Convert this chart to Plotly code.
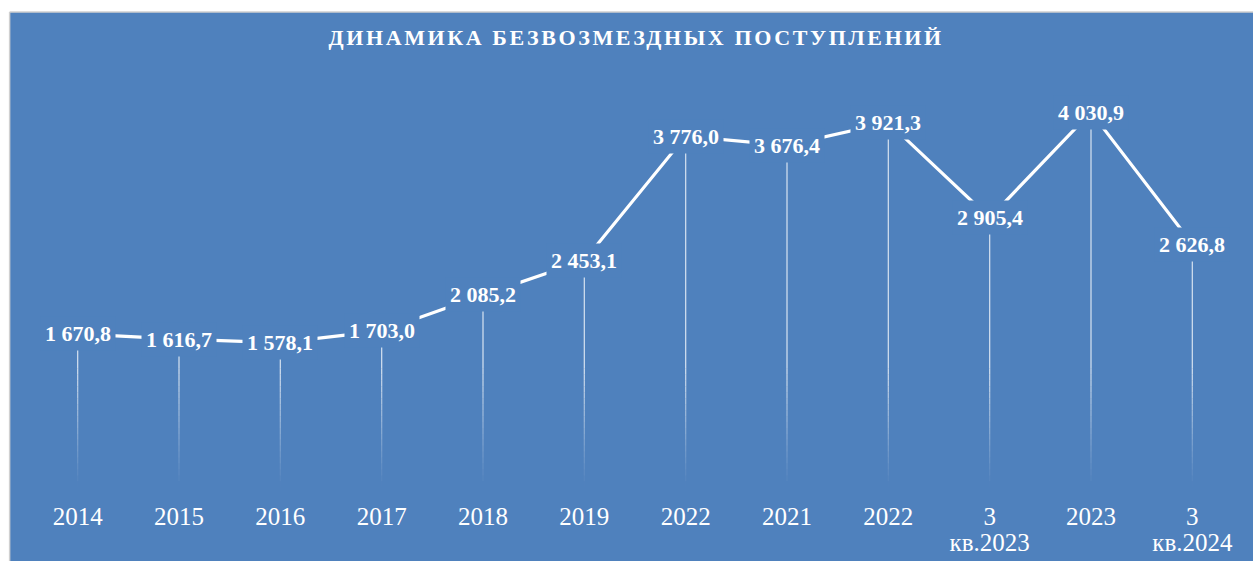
import plotly.graph_objects as go

# ---- data ----
categories = ["2014", "2015", "2016", "2017", "2018", "2019", "2022", "2021",
              "2022", "3<br>кв.2023", "2023", "3<br>кв.2024"]
values = [1670.8, 1616.7, 1578.1, 1703.0, 2085.2, 2453.1, 3776.0, 3676.4,
          3921.3, 2905.4, 4030.9, 2626.8]
title_text = "ДИНАМИКА БЕЗВОЗМЕЗДНЫХ ПОСТУПЛЕНИЙ"

BLUE = "#4F81BD"
FONT = "Liberation Serif, Times New Roman, serif"
xs = list(range(len(values)))

W, H = 1253, 561


def fmt(v):
    s = f"{v:,.1f}"
    return s.replace(",", " ").replace(".", ",")


fig = go.Figure()

# drop lines: solid upper part + gradually fading lower part
fade_top = 1300
steps = 20
base_alpha = 0.72
dx, dy = [], []
for xi, v in zip(xs, values):
    dx += [xi, xi, None]
    dy += [fade_top, v, None]
fig.add_trace(go.Scatter(x=dx, y=dy, mode="lines",
                         line=dict(color=f"rgba(255,255,255,{base_alpha})", width=1.3),
                         hoverinfo="skip", showlegend=False))
for k in range(steps):
    y0 = 40 + (fade_top - 40) * k / steps
    y1 = 40 + (fade_top - 40) * (k + 1) / steps
    a = base_alpha * ((k + 0.5) / steps) ** 1.1
    fx, fy = [], []
    for xi in xs:
        fx += [xi, xi, None]
        fy += [y0, y1, None]
    fig.add_trace(go.Scatter(x=fx, y=fy, mode="lines",
                             line=dict(color=f"rgba(255,255,255,{a:.3f})", width=1.3),
                             hoverinfo="skip", showlegend=False))

# main line
fig.add_trace(go.Scatter(x=xs, y=values, mode="lines",
                         line=dict(color="white", width=3.2),
                         hoverinfo="skip", showlegend=False))

# data labels
for xi, v in zip(xs, values):
    fig.add_annotation(x=xi, y=v, xref="x", yref="y", text=f"<b>{fmt(v)}</b>",
                       showarrow=False, bgcolor=BLUE, borderpad=4,
                       font=dict(family=FONT, size=22, color="white"))

# white strips at top and left of the blue panel, with thin grey edge
fig.add_shape(type="rect", xref="paper", yref="paper",
              x0=-0.03, x1=1.02, y0=1.1324, y1=1.2,
              fillcolor="white", line=dict(width=0), layer="below")
fig.add_shape(type="rect", xref="paper", yref="paper",
              x0=-0.03, x1=-0.0143, y0=-0.2, y1=1.2,
              fillcolor="white", line=dict(width=0), layer="below")
fig.add_shape(type="line", xref="paper", yref="paper",
              x0=-0.0143, x1=1.02, y0=1.1324, y1=1.1324,
              line=dict(color="#d0d0d0", width=1.5), layer="below")
fig.add_shape(type="line", xref="paper", yref="paper",
              x0=-0.0143, x1=-0.0143, y0=-0.2, y1=1.1324,
              line=dict(color="#d0d0d0", width=1.5), layer="below")

# tick labels: large glyphs with a tighter line spacing
tick_text = [f"<span style='font-size:25px'>{c}</span>".replace(
    "<br>", "</span><br><span style='font-size:25px'>") for c in categories]

fig.update_layout(
    width=W, height=H,
    margin=dict(l=27, r=10, t=68, b=70, autoexpand=False),
    paper_bgcolor=BLUE,
    plot_bgcolor=BLUE,
    title=dict(text=f"<b><span style='letter-spacing:2.6px'>{title_text}</span></b>",
               x=0.5077, xanchor="center", y=1 - 37 / H, yanchor="middle",
               font=dict(family=FONT, size=22, color="white")),
    xaxis=dict(tickvals=xs, ticktext=tick_text, range=[-0.5, len(values) - 0.5],
               showgrid=False, zeroline=False, showline=False, ticks="",
               automargin=False, ticklabelstandoff=13,
               tickfont=dict(family=FONT, size=20, color="white")),
    yaxis=dict(range=[0, 4500], visible=False, showgrid=False, zeroline=False,
               automargin=False),
)

fig.write_html("out.html", config={"displayModeBar": False},
               post_script="document.body.style.margin='0';document.body.style.overflow='hidden';")
